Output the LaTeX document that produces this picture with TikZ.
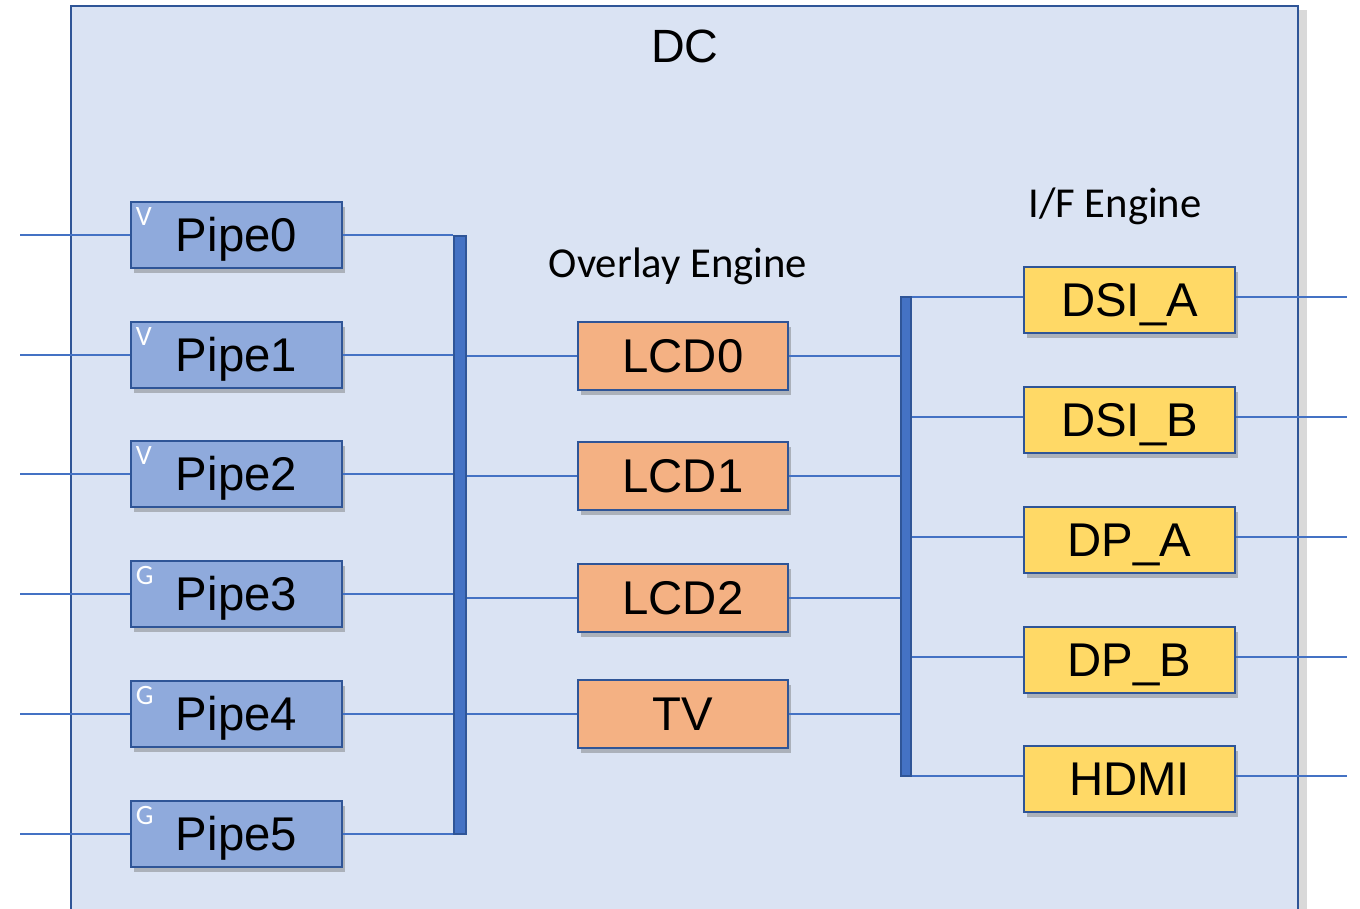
\documentclass[tikz,border=0pt]{standalone}
\usepackage{fontspec}
\setmainfont{Liberation Sans}
\newfontfamily\calibri{Carlito}
\usetikzlibrary{shadows}
\definecolor{dcfill}{HTML}{DAE3F3}
\definecolor{dcdraw}{HTML}{2F5597}
\definecolor{wire}{HTML}{4472C4}
\definecolor{pipefill}{HTML}{8FAADC}
\definecolor{lcdfill}{HTML}{F4B183}
\definecolor{iffill}{HTML}{FFD966}
\tikzset{
  boxstyle/.style={draw=dcdraw, line width=2pt, minimum width=211*0.75pt, minimum height=66*0.75pt,
    inner sep=0pt, font=\fontsize{35.5}{37}\selectfont, text height=25.4pt, text depth=0pt,
    drop shadow={shadow xshift=2.5pt, shadow yshift=-4pt, opacity=0.4, fill=black!60}},
  pipebox/.style={boxstyle, fill=pipefill},
  lcdbox/.style={boxstyle, fill=lcdfill, minimum width=210*0.75pt, minimum height=68*0.75pt},
  ifbox/.style={boxstyle, fill=iffill},
  wireline/.style={draw=wire, line width=1.6pt},
  busbar/.style={draw=dcdraw, fill=wire, line width=1pt, inner sep=0pt},
  tag/.style={text=white, font=\calibri\fontsize{21}{22}\selectfont, inner sep=0pt, text height=13.5pt, text depth=0pt},
  lbl/.style={font=\calibri\fontsize{32}{34}\selectfont, inner sep=0pt},
}
\begin{document}
\begin{tikzpicture}[x=0.75pt,y=-0.75pt]
\useasboundingbox (0,0) rectangle (1360,908);
\clip (0,0) rectangle (1360,908);
% DC container
\node[draw=dcdraw, fill=dcfill, line width=2.2pt, inner sep=0pt, minimum width=1227*0.75pt, minimum height=960*0.75pt,
  drop shadow={shadow xshift=7pt, shadow yshift=-3pt, opacity=0.3, fill=black!50}] (dc) at (684.5,486) {};
\node[font=\fontsize{35}{36}\selectfont, inner sep=0pt] (dclbl) at (685,46) {DC};
\node[lbl] (ovl) at (678,266) {Overlay Engine};
\node[lbl] (ifl) at (1115,206) {I/F Engine};

% bus bars
\node[busbar, minimum width=12*0.75pt, minimum height=598*0.75pt] (busA) at (460,535) {};
\node[busbar, minimum width=10*0.75pt, minimum height=479*0.75pt] (busB) at (906,536.5) {};

% pipes
\foreach \i/\y/\t in {0/235/V,1/355/V,2/474/V,3/594/G,4/714/G,5/834/G}{
  \node[pipebox] (p\i) at (236.5,\y) {Pipe\i};
  \node[tag, anchor=north west] (t\i) at ([xshift=4.5pt,yshift=-5pt]p\i.north west) {\t};
  \coordinate (in\i) at (20,\y);
  \draw[wireline] (in\i) -- (p\i.west);
  \draw[wireline] (p\i.east) -- (p\i.east -| busA.west);
}

% overlay engines
\foreach \n/\y/\t in {l0/356/LCD0,l1/476/LCD1,l2/598/LCD2,tv/714/TV}{
  \node[lcdbox] (\n) at (683,\y) {\t};
  \draw[wireline] (\n.west -| busA.east) -- (\n.west);
  \draw[wireline] (\n.east) -- (\n.east -| busB.west);
}

% I/F engines
\foreach \n/\y/\t in {da/297/DSI\_A,db/417/DSI\_B,pa/537/DP\_A,pb/657/DP\_B,hd/776/HDMI}{
  \node[ifbox] (\n) at (1129.5,\y+3) {\t};
  \coordinate (out\n) at (1347,\y);
  \draw[wireline] (busB.east |- out\n) -- (\n.west |- out\n);
  \draw[wireline] (\n.east |- out\n) -- (out\n);
}
\end{tikzpicture}
\end{document}
